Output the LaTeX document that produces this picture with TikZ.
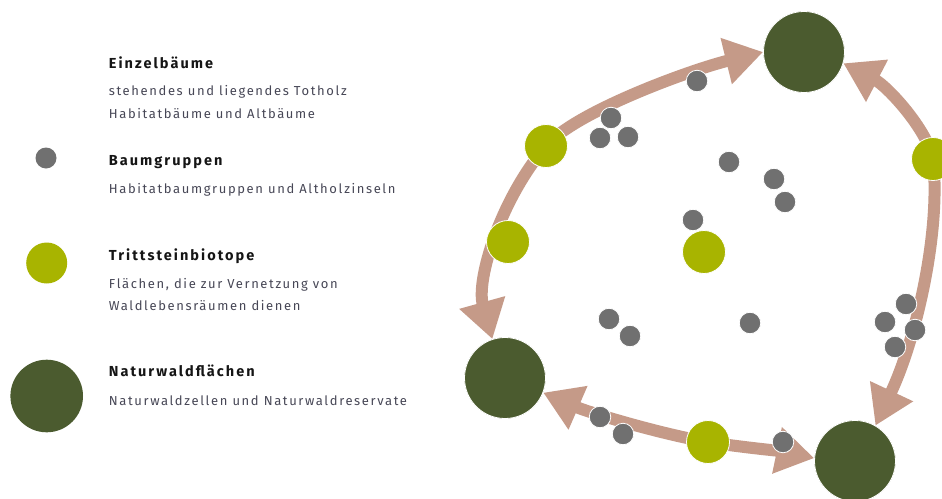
\documentclass[tikz,border=0pt]{standalone}
\usepackage{fontspec}
\setmainfont{Fira Sans}
\newfontfamily\descfont{Fira Sans}[LetterSpace=12.5]
\newfontfamily\titlefont{Fira Sans}[LetterSpace=14]
\usetikzlibrary{arrows.meta}
\definecolor{dkgreen}{HTML}{4B5B2F}
\definecolor{limegr}{HTML}{A8B400}
\definecolor{dotgray}{HTML}{707070}
\definecolor{bandcol}{HTML}{C59A88}
\definecolor{desccol}{HTML}{474756}
\definecolor{titlecol}{HTML}{151515}
\begin{document}
\begin{tikzpicture}[x=1pt,y=-1pt,
  bigc/.style={circle,fill=dkgreen,draw=white,line width=0.8pt,minimum size=81pt,inner sep=0pt},
  midc/.style={circle,fill=limegr,draw=white,line width=0.8pt,minimum size=43pt,inner sep=0pt},
  smallc/.style={circle,fill=dotgray,draw=white,line width=0.8pt,minimum size=21.5pt,inner sep=0pt},
  bandline/.style={draw=bandcol,line width=12pt,
    {Triangle[length=38pt,width=45pt]}-{Triangle[length=38pt,width=45pt]}},
  ttl/.style={anchor=base west,inner sep=0pt,text=titlecol,font=\titlefont\bfseries\fontsize{14.5}{16}\selectfont},
  dsc/.style={anchor=base west,inner sep=0pt,text=desccol,font=\descfont\fontsize{13}{15}\selectfont}
]
\useasboundingbox (0,0) rectangle (942,498);
\fill[white] (0,0) rectangle (942,498);

% legend
\node[smallc,draw=none,minimum size=21pt] (lg) at (46,158) {};
\node[midc,draw=none,minimum size=41pt] (ll) at (46.7,263) {};
\node[bigc,draw=none,minimum size=72.6pt] (ld) at (46.7,396) {};

\node[ttl] (t1) at (108.7,68.3) {Einzelbäume};
\node[dsc] (d1a) at (108.7,95) {stehendes und liegendes Totholz};
\node[dsc] (d1b) at (108.7,118) {Habitatbäume und Altbäume};
\node[ttl] (t2) at (108.7,165) {Baumgruppen};
\node[dsc] (d2a) at (108.7,193.3) {Habitatbaumgruppen und Altholzinseln};
\node[ttl] (t3) at (108.7,260) {Trittsteinbiotope};
\node[dsc] (d3a) at (108.7,288.3) {Flächen, die zur Vernetzung von};
\node[dsc] (d3b) at (108.7,310.5) {Waldlebensräumen dienen};
\node[ttl] (t4) at (108.7,376.7) {Naturwaldflächen};
\node[dsc] (d4a) at (108.7,405) {Naturwaldzellen und Naturwaldreservate};

% main nodes (positions)
\coordinate (Tc) at (804,52);
\coordinate (Lc) at (505,378);
\coordinate (Rc) at (855,461);
\node[bigc,draw=none] (T) at (Tc) {};
\node[bigc,draw=none] (L) at (Lc) {};
\node[bigc,draw=none] (R) at (Rc) {};

% stepping-stone positions
\coordinate (m1c) at (546,146);
\coordinate (m2c) at (933,159);
\coordinate (m5c) at (708,442);

% bands
\draw[bandline] (L.108) .. controls (476,280) and (500,200) .. (m1c)
  .. controls (575,112) and (690,70) .. (T.180);
\draw[bandline] (T.-16) .. controls (887,86) and (927,129) .. (m2c)
  .. controls (941,230) and (917,337) .. (R.60);
\draw[bandline] (L.-21) .. controls (590,413) and (665,435) .. (m5c)
  .. controls (740,447) and (780,451) .. (R.176);

% circles on top
\node[bigc] at (Tc) {};
\node[bigc] at (Lc) {};
\node[bigc] at (Rc) {};

\node[midc] (m1) at (m1c) {};
\node[midc] (m2) at (m2c) {};
\node[midc] (m3) at (508,242) {};
\node[midc] (m4) at (704,252) {};
\node[midc] (m5) at (m5c) {};

\node[smallc] (g1) at (697,81) {};
\node[smallc] (g3) at (600,138) {};
\node[smallc] (g4) at (628,137) {};
\node[smallc] (g2) at (611,118) {};
\node[smallc] (g5) at (729,162) {};
\node[smallc] (g6) at (774,179) {};
\node[smallc] (g7) at (785,202) {};
\node[smallc] (g8) at (693,220) {};
\node[smallc] (g9) at (609,319) {};
\node[smallc] (g10) at (630,336) {};
\node[smallc] (g11) at (750,323) {};
\node[smallc] (g12) at (906,304) {};
\node[smallc] (g13) at (885,322) {};
\node[smallc] (g14) at (915,330) {};
\node[smallc] (g15) at (895,347) {};
\node[smallc] (g16) at (600,417) {};
\node[smallc] (g17) at (623,434) {};
\node[smallc] (g18) at (783,442) {};
\end{tikzpicture}
\end{document}
